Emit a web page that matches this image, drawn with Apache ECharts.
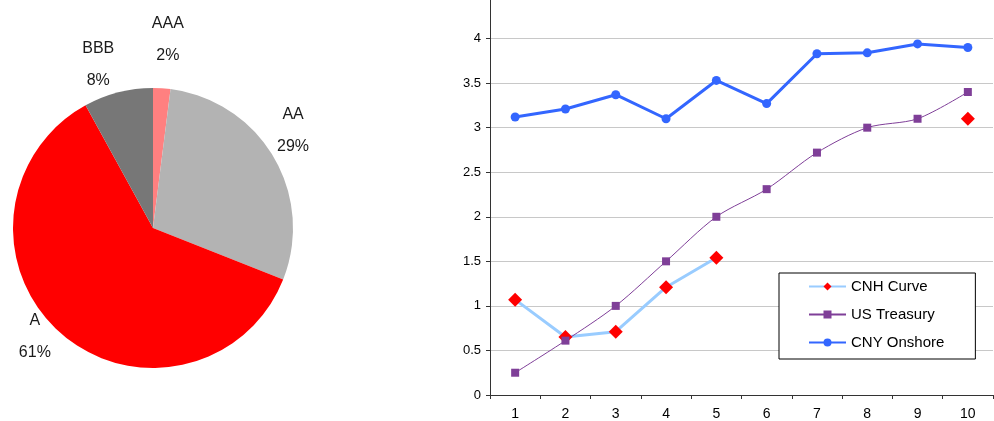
<!DOCTYPE html>
<html>
<head>
<meta charset="utf-8">
<script src="https://cdn.jsdelivr.net/npm/echarts@6/dist/echarts.min.js"></script>
<style>html,body{margin:0;padding:0;background:#fff}#c{width:994px;height:421px}</style>
</head>
<body>
<div id="c"></div>
<script>
const ratingNames = ['AAA', 'AA', 'A', 'BBB'];
const ratingValues = [2, 29, 61, 8];
const ratingColors = ['#FF8080', '#B3B3B3', '#FF0000', '#777777'];

const tenors = ['1', '2', '3', '4', '5', '6', '7', '8', '9', '10'];
const cnhCurve = [1.07, 0.65, 0.71, 1.21, 1.54, null, null, null, null, 3.1];
const usTreasury = [0.25, 0.61, 1.0, 1.5, 2.0, 2.31, 2.72, 3.0, 3.1, 3.4];
const cnyOnshore = [3.12, 3.21, 3.37, 3.10, 3.53, 3.27, 3.83, 3.84, 3.94, 3.90];

// label placement tweaks (distance beyond the pie edge, and small nudges)
const labelGap = [48, 32, 22, 32];
const labelNudge = [[-2, -1], [-13, -10], [-6, -13], [-7, 3]];

const font = 'Liberation Sans, Arial, sans-serif';
const chart = echarts.init(document.getElementById('c'));
chart.setOption({
  animation: false,
  textStyle: { fontFamily: font },
  legend: {
    orient: 'vertical',
    left: 779, top: 273,
    padding: [6, 31, 9, 29],
    borderColor: '#000', borderWidth: 1, backgroundColor: '#fff',
    itemWidth: 37, itemHeight: 10, itemGap: 13,
    textStyle: { fontSize: 15, color: '#000', fontFamily: font },
    data: ['CNH Curve', 'US Treasury', 'CNY Onshore']
  },
  grid: { left: 490, right: 1, top: -6, bottom: 26, outerBoundsMode: 'none', containLabel: false },
  xAxis: {
    type: 'category', data: tenors, boundaryGap: true,
    axisLine: { lineStyle: { color: '#333', width: 1 } },
    axisTick: { show: true, interval: 0, length: 4, lineStyle: { color: '#333' } },
    axisLabel: { fontSize: 14, color: '#000', margin: 12 }
  },
  yAxis: {
    type: 'value', min: 0, max: 4.5, interval: 0.5,
    axisLine: { show: true, lineStyle: { color: '#333', width: 1 } },
    axisTick: { show: true, length: 4, lineStyle: { color: '#333' } },
    axisLabel: { fontSize: 13, color: '#000', margin: 9 },
    splitLine: { lineStyle: { color: '#C8C8C8', width: 1 } }
  },
  series: [
    {
      type: 'pie',
      center: [153, 228], radius: 140,
      startAngle: 90, clockwise: true,
      label: {
        show: true, position: 'outside', formatter: '{b}\n{d}%',
        fontSize: 16, color: '#1a1a1a', lineHeight: 32, align: 'center',
        overflow: 'none', edgeDistance: 0, bleedMargin: 0, fontFamily: font
      },
      labelLine: { show: false, length2: 0 },
      labelLayout: function (p) {
        const n = labelNudge[p.dataIndex];
        return { align: 'center', verticalAlign: 'middle', dx: n[0], dy: n[1] };
      },
      itemStyle: { borderWidth: 0 },
      data: ratingNames.map((n, i) => ({
        name: n, value: ratingValues[i],
        itemStyle: { color: ratingColors[i] },
        labelLine: { show: false, length: labelGap[i], length2: 0 }
      }))
    },
    {
      name: 'CNH Curve', type: 'line', data: cnhCurve,
      connectNulls: false,
      symbol: 'diamond', symbolSize: 14,
      lineStyle: { color: '#99CCFF', width: 3 },
      itemStyle: { color: '#FF0000' }
    },
    {
      name: 'US Treasury', type: 'line', data: usTreasury,
      smooth: 0.3,
      symbol: 'rect', symbolSize: 8,
      lineStyle: { color: '#7F3F98', width: 1 },
      itemStyle: { color: '#7F3F98' }
    },
    {
      name: 'CNY Onshore', type: 'line', data: cnyOnshore,
      symbol: 'circle', symbolSize: 9,
      lineStyle: { color: '#3366FF', width: 3 },
      itemStyle: { color: '#3366FF' }
    }
  ]
});
</script>
</body>
</html>
